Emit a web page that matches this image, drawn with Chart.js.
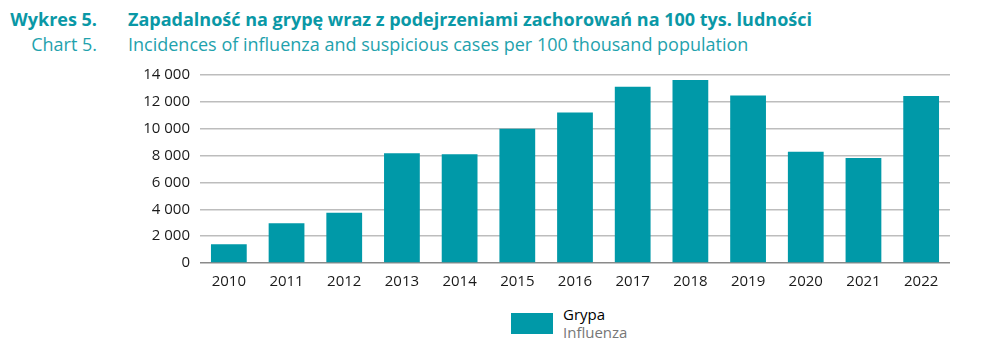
<!DOCTYPE html>
<html lang="pl">
  <head>
    <meta charset="UTF-8" />
    <title>Wykres 5</title>
    <style>
      * {
        margin: 0;
        padding: 0;
        box-sizing: border-box;
      }
      body {
        width: 1000px;
        height: 348px;
        background: #fff;
        font-family: "Open Sans", sans-serif;
        position: relative;
        overflow: hidden;
      }
      .title {
        position: absolute;
        left: 0;
        top: 7px;
        color: #0a98a6;
        font-size: 18px;
        line-height: 25px;
        white-space: nowrap;
      }
      .title .row {
        display: flex;
      }
      .title .num {
        width: 97px;
        text-align: right;
        margin-right: 31px;
      }
      .title .pl {
        font-weight: bold;
      }
      .title .en {
        color: #1fa2ad;
      }
      .chart-box {
        position: absolute;
        left: 0;
        top: 56px;
        width: 1000px;
        height: 244px;
      }
      .legend {
        position: absolute;
        left: 511px;
        top: 305px;
        display: flex;
        align-items: center;
        font-size: 15px;
        line-height: 18px;
      }
      .legend .box {
        width: 42px;
        height: 21px;
        margin-right: 10px;
      }
      .legend .en {
        color: #777;
      }
    </style>
    <script src="https://cdn.jsdelivr.net/npm/chart.js"></script>
  </head>
  <body>
    <div class="title">
      <div class="row pl"><span class="num">Wykres 5.</span><span>Zapadalność na grypę wraz z podejrzeniami zachorowań na 100 tys. ludności</span></div>
      <div class="row en"><span class="num">Chart 5.</span><span>Incidences of influenza and suspicious cases per 100 thousand population</span></div>
    </div>
    <div class="chart-box"><canvas id="chart"></canvas></div>
    <div class="legend">
      <span class="box" id="legendBox"></span>
      <div><div id="legendPl"></div><div class="en" id="legendEn"></div></div>
    </div>

    <script>
      const years = ["2010", "2011", "2012", "2013", "2014", "2015", "2016", "2017", "2018", "2019", "2020", "2021", "2022"];
      const influenza = [1400, 2960, 3750, 8180, 8100, 10000, 11200, 13130, 13630, 12470, 8280, 7810, 12430];
      const yTicks = [0, 2000, 4000, 6000, 8000, 10000, 12000, 14000];
      const seriesName = ["Grypa", "Influenza"];
      const barColor = "#0099a8";

      document.getElementById("legendBox").style.background = barColor;
      document.getElementById("legendPl").textContent = seriesName[0];
      document.getElementById("legendEn").textContent = seriesName[1];

      const fmt = v => String(v).replace(/\B(?=(\d{3})+(?!\d))/g, " ");

      new Chart(document.getElementById("chart"), {
        type: "bar",
        data: {
          labels: years,
          datasets: [{
            label: seriesName.join(" / "),
            data: influenza,
            backgroundColor: barColor,
            barPercentage: 0.62,
            categoryPercentage: 1,
          }],
        },
        options: {
          responsive: true,
          maintainAspectRatio: false,
          animation: false,
          layout: { padding: { top: 10, right: 50, left: 0, bottom: 0 } },
          plugins: { legend: { display: false }, tooltip: { enabled: false } },
          scales: {
            x: {
              grid: { display: false },
              border: { display: false },
              ticks: { color: "#1a1a1a", font: { family: "Open Sans", size: 15 }, padding: 2 },
              afterFit: s => { s.height = 37; },
            },
            y: {
              min: 0,
              max: 14000,
              afterBuildTicks: s => { s.ticks = yTicks.map(v => ({ value: v })); },
              grid: {
                drawTicks: false,
                lineWidth: 1.5,
                color: c => (c.tick && c.tick.value === 0 ? "#8a8a8a" : "#bdbdbd"),
              },
              border: { display: false },
              ticks: {
                color: "#1a1a1a",
                font: { family: "Open Sans", size: 15 },
                padding: 10,
                callback: v => fmt(v),
              },
              afterFit: s => { s.width = 200; },
            },
          },
        },
      });
    </script>
  </body>
</html>
